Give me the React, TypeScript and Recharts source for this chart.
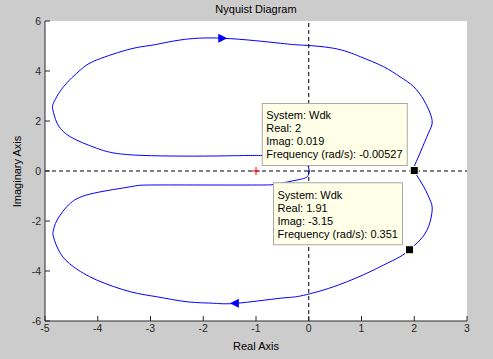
import React from 'react';
import { ComposedChart, Line, XAxis, YAxis, Scatter, ReferenceLine, CartesianGrid } from 'recharts';

const realTicks = [-5, -4, -3, -2, -1, 0, 1, 2, 3];
const imagTicks = [-6, -4, -2, 0, 2, 4, 6];

// negative frequencies: origin -> left -> top -> (2, 0)
const negFreqBranch = [
  { x: 0.01, y: 0 },
  { x: -0.03, y: 0.23 },
  { x: -0.22, y: 0.36 },
  { x: -0.6, y: 0.52 },
  { x: -0.92, y: 0.62 },
  { x: -1.81, y: 0.6 },
  { x: -3.32, y: 0.64 },
  { x: -4.02, y: 0.91 },
  { x: -4.52, y: 1.37 },
  { x: -4.77, y: 1.91 },
  { x: -4.85, y: 2.44 },
  { x: -4.84, y: 2.71 },
  { x: -4.65, y: 3.37 },
  { x: -4.33, y: 4.04 },
  { x: -4.02, y: 4.44 },
  { x: -3.38, y: 4.88 },
  { x: -2.95, y: 5.04 },
  { x: -2.44, y: 5.24 },
  { x: -1.62, y: 5.31 },
  { x: -0.54, y: 5.11 },
  { x: -0.16, y: 5.04 },
  { x: 0.47, y: 4.91 },
  { x: 0.98, y: 4.57 },
  { x: 1.42, y: 4.17 },
  { x: 1.73, y: 3.77 },
  { x: 1.99, y: 3.37 },
  { x: 2.18, y: 2.84 },
  { x: 2.3, y: 2.32 },
  { x: 2.34, y: 1.92 },
  { x: 2.27, y: 1.52 },
  { x: 2.11, y: 0.72 },
  { x: 2.0, y: 0.17 },
  { x: 2.0, y: 0.019 },
];

// positive frequencies: (2, 0) -> bottom -> left -> origin
const posFreqBranch = [
  { x: 2.0, y: -0.019 },
  { x: 2.18, y: -0.63 },
  { x: 2.3, y: -1.16 },
  { x: 2.34, y: -1.56 },
  { x: 2.27, y: -2.23 },
  { x: 2.11, y: -2.76 },
  { x: 1.91, y: -3.15 },
  { x: 1.73, y: -3.43 },
  { x: 1.42, y: -3.76 },
  { x: 1.1, y: -4.09 },
  { x: 0.47, y: -4.63 },
  { x: -0.16, y: -5.0 },
  { x: -0.54, y: -5.09 },
  { x: -1.36, y: -5.29 },
  { x: -1.8, y: -5.29 },
  { x: -2.31, y: -5.23 },
  { x: -2.88, y: -5.03 },
  { x: -3.38, y: -4.83 },
  { x: -4.02, y: -4.36 },
  { x: -4.46, y: -3.83 },
  { x: -4.71, y: -3.29 },
  { x: -4.84, y: -2.63 },
  { x: -4.84, y: -2.36 },
  { x: -4.77, y: -1.96 },
  { x: -4.52, y: -1.29 },
  { x: -4.08, y: -0.89 },
  { x: -3.38, y: -0.63 },
  { x: -3.0, y: -0.56 },
  { x: -1.86, y: -0.56 },
  { x: -0.92, y: -0.56 },
  { x: -0.6, y: -0.52 },
  { x: -0.22, y: -0.36 },
  { x: -0.03, y: -0.23 },
  { x: 0.01, y: 0 },
];

const dataTips = [
  { x: 2, y: 0.019, system: 'Wdk', real: '2', imag: '0.019', freq: '-0.00527' },
  { x: 1.91, y: -3.15, system: 'Wdk', real: '1.91', imag: '-3.15', freq: '0.351' },
];
const criticalPoint = [{ x: -1, y: 0 }];
const directionArrows = [
  { x: -1.63, y: 5.31, dir: 1 },
  { x: -1.41, y: -5.29, dir: -1 },
];

const FONT = '"Liberation Sans", Arial, Helvetica, sans-serif';
const AXIS_COLOR = '#2b2b2b';

let measureCtx: CanvasRenderingContext2D | null = null;
const measure = (s: string) => {
  if (!measureCtx) {
    const c = document.createElement('canvas');
    measureCtx = c.getContext('2d');
  }
  if (!measureCtx) return s.length * 5.5;
  measureCtx.font = `11px ${FONT}`;
  return measureCtx.measureText(s).width;
};

const TipShape = (props: any) => {
  const { cx, cy, payload } = props;
  const lines = [
    `System: ${payload.system}`,
    `Real: ${payload.real}`,
    `Imag: ${payload.imag}`,
    `Frequency (rad/s): ${payload.freq}`,
  ];
  const w = Math.ceil(Math.max(...lines.map(measure))) + 8;
  const h = 62;
  const right = cx - 7;
  const bottom = cy - 5;
  return (
    <g>
      <rect x={right - w} y={bottom - h} width={w} height={h} fill="#ffffe8" stroke="#a8a8a8" />
      {lines.map((l, i) => (
        <text
          key={i}
          x={right - w + 4}
          y={bottom - h + 12 + i * 13}
          dy="0.35em"
          fontSize={11}
          fontFamily={FONT}
          fill="#000"
        >
          {l}
        </text>
      ))}
      <rect x={cx - 4} y={cy - 4} width={8} height={8} fill="#000" stroke="#ffffe8" strokeWidth={1} />
    </g>
  );
};

const CrossShape = (props: any) => {
  const { cx, cy } = props;
  return (
    <g>
      <line x1={cx - 4} x2={cx + 4} y1={cy} y2={cy} stroke="#ff0000" />
      <line x1={cx} x2={cx} y1={cy - 4} y2={cy + 4} stroke="#ff0000" />
    </g>
  );
};

const ArrowShape = (props: any) => {
  const { cx, cy, payload } = props;
  const d = payload.dir;
  const tip = cx + d * 4.5;
  const base = cx - d * 4.5;
  return <polygon points={`${tip},${cy} ${base},${cy - 4.5} ${base},${cy + 4.5}`} fill="#0000ff" />;
};

const BottomTick = ({ x, y, payload }: any) => (
  <g>
    <line x1={x} x2={x} y1={y - 5} y2={y} stroke={AXIS_COLOR} />
    <text x={x} y={y + 4} dy="0.71em" textAnchor="middle" fontSize={10.5} fontFamily={FONT} fill="#262626">
      {payload.value}
    </text>
  </g>
);
const TopTick = ({ x, y }: any) => <line x1={x} x2={x} y1={y} y2={y + 5} stroke={AXIS_COLOR} />;
const LeftTick = ({ x, y, payload }: any) => (
  <g>
    <line x1={x} x2={x + 5} y1={y} y2={y} stroke={AXIS_COLOR} />
    <text x={x - 4} y={y} dy="0.35em" textAnchor="end" fontSize={10.5} fontFamily={FONT} fill="#262626">
      {payload.value}
    </text>
  </g>
);
const RightTick = ({ x, y }: any) => <line x1={x - 5} x2={x} y1={y} y2={y} stroke={AXIS_COLOR} />;

export default function App() {
  return (
    <div
      style={{
        position: 'absolute',
        left: 0,
        top: 0,
        width: 493,
        height: 359,
        background: '#cccccc',
        fontFamily: FONT,
        overflow: 'hidden',
      }}
    >
      <ComposedChart width={493} height={359} margin={{ top: 21, right: 26, left: 0, bottom: 0 }}>
        <CartesianGrid fill="#ffffff" stroke="none" horizontal={false} vertical={false} />
        <XAxis
          type="number"
          dataKey="x"
          domain={[-5, 3]}
          ticks={realTicks}
          allowDataOverflow
          height={38}
          tickSize={0}
          tickMargin={0}
          axisLine={{ stroke: AXIS_COLOR }}
          tick={<BottomTick />}
          interval={0}
        />
        <XAxis
          xAxisId="top"
          orientation="top"
          type="number"
          domain={[-5, 3]}
          ticks={realTicks}
          allowDataOverflow
          height={0}
          tickSize={0}
          tickMargin={0}
          axisLine={{ stroke: AXIS_COLOR }}
          tick={<TopTick />}
          interval={0}
        />
        <YAxis
          type="number"
          dataKey="y"
          domain={[-6, 6]}
          ticks={imagTicks}
          allowDataOverflow
          width={45}
          tickSize={0}
          tickMargin={0}
          axisLine={{ stroke: AXIS_COLOR }}
          tick={<LeftTick />}
          interval={0}
        />
        <YAxis
          yAxisId="right"
          orientation="right"
          type="number"
          domain={[-6, 6]}
          ticks={imagTicks}
          allowDataOverflow
          width={0}
          tickSize={0}
          tickMargin={0}
          axisLine={{ stroke: AXIS_COLOR }}
          tick={<RightTick />}
          interval={0}
        />
        <Line
          data={negFreqBranch}
          dataKey="y"
          type="natural"
          stroke="#0000ff"
          strokeWidth={1}
          dot={false}
          isAnimationActive={false}
        />
        <Line
          data={posFreqBranch}
          dataKey="y"
          type="natural"
          stroke="#0000ff"
          strokeWidth={1}
          dot={false}
          isAnimationActive={false}
        />
        <Scatter data={directionArrows} dataKey="y" shape={<ArrowShape />} isAnimationActive={false} />
        <Scatter data={criticalPoint} dataKey="y" shape={<CrossShape />} isAnimationActive={false} />
        <Scatter data={dataTips} dataKey="y" shape={<TipShape />} isAnimationActive={false} />
        <ReferenceLine x={0} stroke="#000" strokeDasharray="4 3" />
        <ReferenceLine y={0} stroke="#000" strokeDasharray="4 3" />
      </ComposedChart>
      <div
        style={{
          position: 'absolute',
          left: 45,
          width: 422,
          top: 3,
          textAlign: 'center',
          fontSize: 11,
          lineHeight: '13px',
          color: '#000',
        }}
      >
        Nyquist Diagram
      </div>
      <div
        style={{
          position: 'absolute',
          left: 45,
          width: 422,
          top: 340,
          textAlign: 'center',
          fontSize: 11,
          lineHeight: '13px',
          color: '#000',
        }}
      >
        Real Axis
      </div>
      <div
        style={{
          position: 'absolute',
          left: 17 - 50,
          width: 100,
          top: 171 - 6.5,
          textAlign: 'center',
          fontSize: 11,
          lineHeight: '13px',
          color: '#000',
          transform: 'rotate(-90deg)',
        }}
      >
        Imaginary Axis
      </div>
    </div>
  );
}
